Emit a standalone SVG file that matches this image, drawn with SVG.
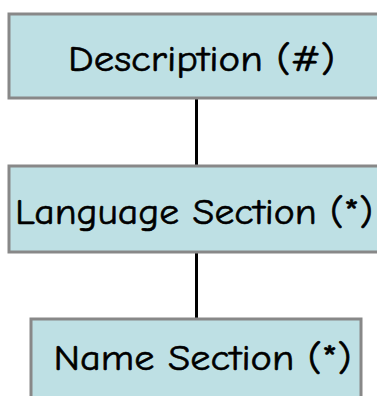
<svg xmlns="http://www.w3.org/2000/svg" width="377" height="396" viewBox="0 0 377 396">
<style>
.box{fill:#bee0e4;stroke:#888888;stroke-width:3}
.lbl{font-family:"Comic Sans MS","Comic Neue","DejaVu Sans",sans-serif;font-size:37px;fill:#000;stroke:#000;stroke-width:0.6;text-anchor:middle}
.conn{stroke:#000;stroke-width:3;fill:none}
</style>
<rect width="377" height="396" fill="#ffffff"/>
<g id="connectors">
<line class="conn" x1="196.5" y1="98" x2="196.5" y2="165"/>
<line class="conn" x1="196.5" y1="253" x2="196.5" y2="318"/>
</g>
<g id="description">
<rect class="box" x="9" y="14" width="380" height="84"/>
<text class="lbl" x="201.5" y="71" textLength="267" lengthAdjust="spacingAndGlyphs">Description (#)</text>
</g>
<g id="language-section">
<rect class="box" x="9" y="166" width="380" height="86"/>
<text class="lbl" x="194" y="224" textLength="358" lengthAdjust="spacingAndGlyphs">Language Section (*)</text>
</g>
<g id="name-section">
<rect class="box" x="31" y="319" width="330" height="90"/>
<text class="lbl" x="202.5" y="370" textLength="298" lengthAdjust="spacingAndGlyphs">Name Section (*)</text>
</g>
</svg>
